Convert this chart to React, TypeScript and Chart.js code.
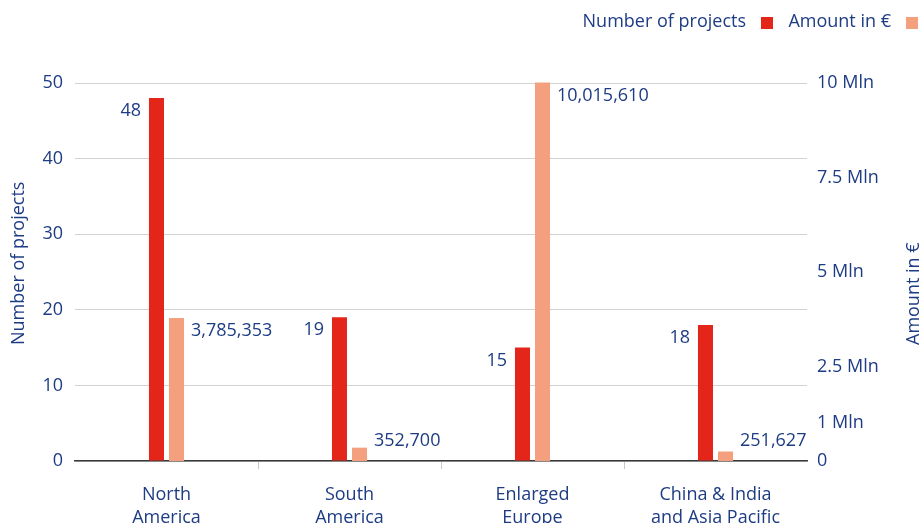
import React, { useEffect, useRef } from "react";
import { Chart, registerables } from "chart.js";

Chart.register(...registerables);

const categories: string[][] = [
  ["North", "America"],
  ["South", "America"],
  ["Enlarged", "Europe"],
  ["China & India", "and Asia Pacific"],
];
const projects: number[] = [48, 19, 15, 18];
const amounts: number[] = [3785353, 352700, 10015610, 251627];
const leftMax = 50;
const leftStep = 10;
const rightTicks: number[] = [0, 1000000, 2500000, 5000000, 7500000, 10000000];
const seriesNames: string[] = ["Number of projects", "Amount in €"];
const axisTitles: string[] = ["Number of projects", "Amount in €"];

const FONT = "'Open Sans', sans-serif";
const FS = 18;
const NAVY = "#1e3c84";
const RED = "#e32619";
const SALMON = "#f49f7e";
const CW = 935;
const CH = 545;
const AREA_LEFT = 75;
const AREA_RIGHT = 807;

const valueLabels = {
  id: "valueLabels",
  afterDatasetsDraw(chart: any) {
    const ctx = chart.ctx;
    ctx.save();
    ctx.font = `${FS}px ${FONT}`;
    ctx.fillStyle = NAVY;
    ctx.textBaseline = "middle";
    chart.data.datasets.forEach((ds: any, di: number) => {
      const meta = chart.getDatasetMeta(di);
      meta.data.forEach((bar: any, i: number) => {
        const { x, y, base, width } = bar.getProps(["x", "y", "base", "width"], true);
        const ty = Math.min(y + 13, base - 20);
        const text = Number(ds.data[i]).toLocaleString("en-US");
        if (di === 0) {
          ctx.textAlign = "right";
          ctx.fillText(text, x - width / 2 - 8, ty);
        } else {
          ctx.textAlign = "left";
          ctx.fillText(text, x + width / 2 + 7, ty);
        }
      });
    });
    ctx.restore();
  },
};

// legend layout: each item's text ends just before its box
const legendBoxX: number[] = [761, 906];

const customDecor = {
  id: "customDecor",
  afterDraw(chart: any) {
    const ctx = chart.ctx;
    ctx.save();
    ctx.font = `${FS}px ${FONT}`;
    ctx.textBaseline = "middle";
    const ly = 22;
    chart.data.datasets.forEach((ds: any, di: number) => {
      const bx = legendBoxX[di];
      ctx.fillStyle = NAVY;
      ctx.textAlign = "right";
      ctx.fillText(ds.label, bx - 15, ly);
      ctx.fillStyle = ds.backgroundColor;
      ctx.fillRect(bx, ly - 5, 12, 12);
    });
    ctx.fillStyle = NAVY;
    ctx.textAlign = "left";
    ctx.save();
    ctx.translate(19, 345);
    ctx.rotate(-Math.PI / 2);
    ctx.fillText(axisTitles[0], 0, 0);
    ctx.restore();
    ctx.save();
    ctx.translate(914, 345);
    ctx.rotate(-Math.PI / 2);
    ctx.fillText(axisTitles[1], 0, 0);
    ctx.restore();
    ctx.restore();
  },
};

export default function App() {
  const ref = useRef<HTMLCanvasElement>(null);
  useEffect(() => {
    if (!ref.current) return;
    const chart = new Chart(ref.current, {
      type: "bar",
      data: {
        labels: categories,
        datasets: [
          {
            label: seriesNames[0],
            data: projects,
            backgroundColor: RED,
            yAxisID: "y",
            barPercentage: 0.75,
            categoryPercentage: 0.219,
            clip: false as any,
          },
          {
            label: seriesNames[1],
            data: amounts,
            backgroundColor: SALMON,
            yAxisID: "y1",
            barPercentage: 0.75,
            categoryPercentage: 0.219,
            clip: false as any,
          },
        ],
      },
      options: {
        animation: false,
        responsive: false,
        devicePixelRatio: 1,
        layout: { padding: { top: 83, left: 0, right: 0, bottom: 0 } },
        plugins: {
          legend: { display: false },
          tooltip: { enabled: false },
        },
        scales: {
          x: {
            grid: {
              drawOnChartArea: false,
              drawTicks: true,
              tickLength: 8,
              color: (c: any) =>
                c.type !== "tick" || c.index === 0 ? "rgba(0,0,0,0)" : "#c8c8c8",
              lineWidth: 1,
            },
            border: { display: true, color: "#3a3a3a", width: 1.5 },
            ticks: {
              color: NAVY,
              font: { family: FONT, size: FS, lineHeight: 1.25 },
              padding: 15,
              maxRotation: 0,
              autoSkip: false,
            },
            afterFit: (s: any) => {
              s.height = CH - 461;
            },
          },
          y: {
            position: "left",
            min: 0,
            max: leftMax,
            grid: { color: "#d2d2d2", lineWidth: 1, drawTicks: false },
            border: { display: false },
            ticks: {
              stepSize: leftStep,
              color: NAVY,
              font: { family: FONT, size: FS },
              padding: 12,
            },
            afterFit: (s: any) => {
              s.width = AREA_LEFT;
            },
          },
          y1: {
            position: "right",
            min: 0,
            max: rightTicks[rightTicks.length - 1],
            grid: { display: false, drawOnChartArea: false, drawTicks: false },
            border: { display: false },
            afterBuildTicks: (s: any) => {
              s.ticks = rightTicks.map((v) => ({ value: v }));
            },
            ticks: {
              autoSkip: false,
              color: NAVY,
              font: { family: FONT, size: FS },
              padding: 10,
              callback: (v: any) => (Number(v) === 0 ? "0" : `${Number(v) / 1000000} Mln`),
            },
            afterFit: (s: any) => {
              s.width = CW - AREA_RIGHT;
            },
          },
        },
      },
      plugins: [valueLabels, customDecor],
    });
    return () => chart.destroy();
  }, []);
  return (
    <div
      style={{
        position: "fixed",
        left: 0,
        top: 0,
        width: 920,
        height: 523,
        overflow: "hidden",
        background: "#fff",
      }}
    >
      <canvas ref={ref} width={CW} height={CH} style={{ width: CW, height: CH, display: "block" }} />
    </div>
  );
}
